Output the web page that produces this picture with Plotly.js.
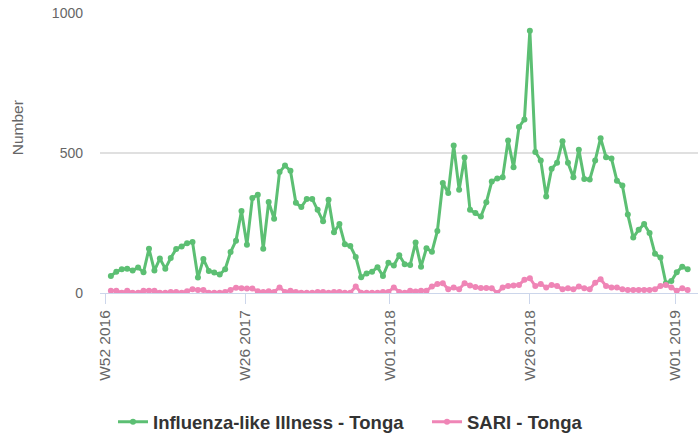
<!DOCTYPE html>
<html>
<head>
<meta charset="utf-8">
<script src="https://cdn.plot.ly/plotly-3.0.1.min.js"></script>
<style>html,body{margin:0;padding:0;background:#fff;}#chart{width:698px;height:439px;}</style>
</head>
<body>
<div id="chart"></div>
<script>
// Weekly counts, starting W01 2017 (week index 1; W52 2016 = index 0)
const ili = [61,76,85,87,80,91,74,158,80,123,87,125,157,166,178,182,55,121,79,73,
  66,85,146,187,293,172,339,351,158,325,265,432,455,437,322,307,336,336,297,256,
  333,217,246,174,168,129,56,70,76,92,61,108,98,135,103,100,180,94,160,147,
  221,393,357,527,369,484,297,286,273,324,398,409,413,545,449,593,620,937,504,473,
  345,444,465,542,465,413,512,407,405,473,553,485,480,401,384,280,198,226,246,214,
  140,127,35,43,74,94,85];
const sari = [8,8,1,8,1,1,8,8,8,1,1,4,4,1,6,13,11,11,1,1,
  1,4,11,19,17,16,16,6,4,6,4,20,4,8,4,1,1,1,4,4,
  1,4,4,1,1,23,1,1,1,1,4,4,20,4,1,8,5,8,8,23,
  32,35,13,20,13,35,27,21,18,18,17,0,20,25,27,29,47,53,25,32,
  20,29,25,13,17,13,23,17,13,37,49,25,20,20,13,11,11,11,11,11,
  13,25,29,20,8,17,11];
const tickLabels = ["W52 2016","W26 2017","W01 2018","W26 2018","W01 2019"];
const tickWeeks = [0, 25.7, 52.2, 78, 104.7];
const seriesNames = ["Influenza-like Illness - Tonga", "SARI - Tonga"];
const yTitle = "Number";

function weekLabel(i){
  const y = 2017 + Math.floor((i-1)/52);
  const w = ((i-1)%52)+1;
  return "W" + String(w).padStart(2,"0") + " " + y;
}
const weekIdx = ili.map((_, i) => i + 1);
const weekText = weekIdx.map(weekLabel);

const font = "Arial, 'Liberation Sans', sans-serif";
const traces = [
  {x: weekIdx, y: ili, text: weekText, name: seriesNames[0], type: "scatter", mode: "lines+markers",
   line: {color: "#5cbf73", width: 3}, marker: {color: "#5cbf73", size: 6}, legend: "legend"},
  {x: weekIdx, y: sari, text: weekText, name: seriesNames[1], type: "scatter", mode: "lines+markers",
   line: {color: "#ef85b6", width: 3}, marker: {color: "#ef85b6", size: 6}, legend: "legend2"}
];
const legendBase = {
  orientation: "h", xref: "container", yref: "container",
  xanchor: "left", y: 0.038, yanchor: "middle",
  font: {size: 18.5, color: "#333", family: font, weight: "bold"},
  itemwidth: 30
};
const layout = {
  width: 698, height: 439,
  margin: {l: 100, r: 0, t: 13, b: 146, pad: 0},
  paper_bgcolor: "#fff", plot_bgcolor: "#fff",
  font: {family: font, color: "#666"},
  showlegend: true,
  xaxis: {
    type: "linear", range: [-1, 108.9],
    tickvals: tickWeeks, ticktext: tickLabels, tickangle: -90,
    tickfont: {size: 15.5, color: "#666", family: font},
    ticks: "outside", ticklen: 10, tickcolor: "#ccd6eb", tickwidth: 1,
    showline: true, linecolor: "#ccd6eb", linewidth: 1,
    showgrid: false, zeroline: false, fixedrange: true
  },
  yaxis: {
    range: [0, 1000], tickvals: [0, 500, 1000],
    tickfont: {size: 14, color: "#666", family: font},
    gridcolor: "#e0e0e0", gridwidth: 1.5, zeroline: false, showline: false,
    ticks: "", ticklabelstandoff: 16
  },
  annotations: [{
    text: yTitle, textangle: -90, showarrow: false,
    xref: "paper", yref: "paper", x: -0.138, y: 0.59,
    xanchor: "center", yanchor: "middle",
    font: {size: 15.5, color: "#666", family: font}
  }],
  legend: Object.assign({}, legendBase, {x: 113/698}),
  legend2: Object.assign({}, legendBase, {x: 427/698})
};
Plotly.newPlot("chart", traces, layout, {displayModeBar: false, staticPlot: true});
</script>
</body>
</html>
